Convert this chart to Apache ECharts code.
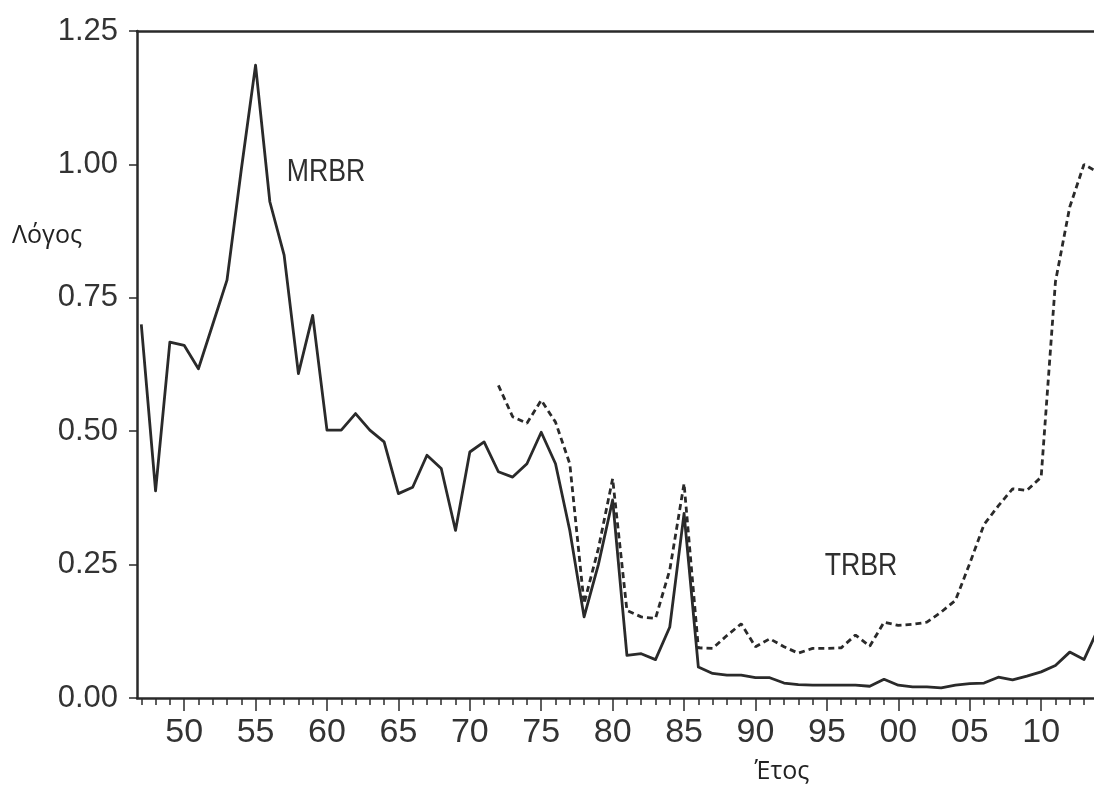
<!DOCTYPE html>
<html>
<head>
<meta charset="utf-8">
<script src="https://cdn.jsdelivr.net/npm/echarts@6/dist/echarts.min.js"></script>
<style>
  html, body { margin: 0; padding: 0; background: #fff; }
  #chart { width: 1094px; height: 785px; }
</style>
</head>
<body>
<div id="chart"></div>
<script>
// Years of the annual observations
const years = [
  1947, 1948, 1949, 1950, 1951, 1952, 1953, 1954, 1955, 1956,
  1957, 1958, 1959, 1960, 1961, 1962, 1963, 1964, 1965, 1966,
  1967, 1968, 1969, 1970, 1971, 1972, 1973, 1974, 1975, 1976,
  1977, 1978, 1979, 1980, 1981, 1982, 1983, 1984, 1985, 1986,
  1987, 1988, 1989, 1990, 1991, 1992, 1993, 1994, 1995, 1996,
  1997, 1998, 1999, 2000, 2001, 2002, 2003, 2004, 2005, 2006,
  2007, 2008, 2009, 2010, 2011, 2012, 2013, 2014
];

// MRBR ratio (solid line)
const mrbr = [
  0.70, 0.388, 0.667, 0.661, 0.617, 0.70, 0.783, 0.99, 1.186, 0.93,
  0.83, 0.608, 0.717, 0.502, 0.502, 0.533, 0.502, 0.48, 0.383, 0.395,
  0.455, 0.43, 0.314, 0.461, 0.48, 0.424, 0.414, 0.439, 0.498, 0.439,
  0.314, 0.152, 0.25, 0.371, 0.08, 0.083, 0.072, 0.133, 0.346, 0.058,
  0.046, 0.043, 0.043, 0.038, 0.038, 0.028, 0.025, 0.024, 0.024, 0.024,
  0.024, 0.022, 0.035, 0.024, 0.021, 0.021, 0.019, 0.024, 0.027, 0.028,
  0.039, 0.034, 0.041, 0.049, 0.061, 0.086, 0.072, 0.13
];

// TRBR ratio (dashed line), available from 1972
const trbr = [
  null, null, null, null, null, null, null, null, null, null,
  null, null, null, null, null, null, null, null, null, null,
  null, null, null, null, null, 0.586, 0.527, 0.515, 0.558, 0.517,
  0.439, 0.177, 0.28, 0.411, 0.164, 0.152, 0.149, 0.24, 0.402, 0.094,
  0.093, 0.117, 0.139, 0.096, 0.111, 0.096, 0.084, 0.093, 0.093, 0.094,
  0.118, 0.097, 0.142, 0.136, 0.138, 0.142, 0.161, 0.183, 0.252, 0.325,
  0.36, 0.392, 0.389, 0.414, 0.78, 0.92, 1.00, 0.985
];

// Labelled years on the horizontal axis and the yearly minor ticks
const majorYears = [1950, 1955, 1960, 1965, 1970, 1975, 1980, 1985, 1990, 1995, 2000, 2005, 2010];
const minorYears = years.slice(0, years.length - 1);

const ink = '#2a2a2a';
const textInk = '#333';
const font = '"Liberation Sans", Arial, sans-serif';
const nameFont = '"Open Sans", "Noto Sans", sans-serif';

const pairs = (vals) => years.map((y, i) => [y, vals[i]]);

const chart = echarts.init(document.getElementById('chart'), null, { renderer: 'canvas' });

chart.setOption({
  animation: false,
  backgroundColor: '#fff',
  grid: { left: 137, top: 31, right: 0, bottom: 87, outerBoundsMode: 'none' },
  xAxis: [
    {
      type: 'value', min: 1946.7, max: 2013.7, position: 'bottom',
      axisLine: { show: true, lineStyle: { color: ink, width: 2.5 } },
      axisTick: { show: true, customValues: majorYears, length: 13, lineStyle: { color: ink, width: 1.5 } },
      axisLabel: {
        show: true, customValues: majorYears, margin: 18,
        color: textInk, fontSize: 34, fontFamily: font,
        formatter: (v) => String(Math.round(v) % 100).padStart(2, '0')
      },
      splitLine: { show: false }
    },
    {
      type: 'value', min: 1946.7, max: 2013.7, position: 'bottom',
      axisLine: { show: false },
      axisTick: { show: true, customValues: minorYears, length: 7, lineStyle: { color: ink, width: 1.5 } },
      axisLabel: { show: false },
      splitLine: { show: false }
    },
    {
      type: 'value', min: 1946.7, max: 2013.7, position: 'top',
      axisLine: { show: true, lineStyle: { color: ink, width: 2.5 } },
      axisTick: { show: false },
      axisLabel: { show: false },
      splitLine: { show: false }
    }
  ],
  yAxis: {
    type: 'value', min: 0, max: 1.25, interval: 0.25,
    axisLine: { show: true, lineStyle: { color: ink, width: 2.5 } },
    axisTick: { show: true, inside: false, length: 8, lineStyle: { color: ink, width: 1.5 } },
    axisLabel: {
      margin: 19, color: textInk, fontSize: 31, fontFamily: font,
      formatter: (v) => v.toFixed(2)
    },
    splitLine: { show: false }
  },
  series: [
    {
      name: 'MRBR', type: 'line', xAxisIndex: 0, data: pairs(mrbr),
      showSymbol: false, symbol: 'none', clip: true,
      lineStyle: { color: ink, width: 2.8, join: 'round' }
    },
    {
      name: 'TRBR', type: 'line', xAxisIndex: 0, data: pairs(trbr),
      showSymbol: false, symbol: 'none', clip: true, connectNulls: false,
      lineStyle: { color: ink, width: 2.8, type: [6, 4] }
    }
  ],
  graphic: [
    {
      type: 'text', x: 326, y: 172, scaleX: 0.86,
      style: { text: 'MRBR', fill: '#2f2f2f', font: '31px ' + font, textAlign: 'center', textVerticalAlign: 'middle' }
    },
    {
      type: 'text', x: 861, y: 566, scaleX: 0.86,
      style: { text: 'TRBR', fill: '#2f2f2f', font: '31px ' + font, textAlign: 'center', textVerticalAlign: 'middle' }
    },
    {
      type: 'text', x: 47, y: 236,
      style: { text: 'Λόγος', fill: '#222', font: '25px ' + nameFont, textAlign: 'center', textVerticalAlign: 'middle' }
    },
    {
      type: 'text', x: 782, y: 772,
      style: { text: 'Έτος', fill: '#222', font: '25px ' + nameFont, textAlign: 'center', textVerticalAlign: 'middle' }
    }
  ]
});
</script>
</body>
</html>
